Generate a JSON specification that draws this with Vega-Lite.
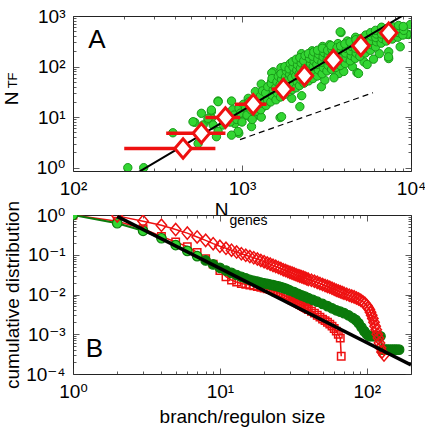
{
  "$schema": "https://vega.github.io/schema/vega-lite/v6.json",
  "background": "white",
  "padding": {"left": 1, "top": 6, "right": 4, "bottom": 4},
  "bounds": "flush",
  "spacing": 44,
  "config": {
    "view": {"stroke": "#222", "strokeWidth": 1},
    "font": "Liberation Sans, DejaVu Sans, sans-serif",
    "axis": {
      "domain": false, "grid": false,
      "labelFont": "Liberation Sans, DejaVu Sans, sans-serif", "labelFontSize": 19, "labelColor": "#000",
      "titleFont": "Liberation Sans, DejaVu Sans, sans-serif", "titleFontSize": 19, "titleFontWeight": "normal", "titleColor": "#000",
      "tickColor": "#333", "tickWidth": 0.8, "labelOverlap": false, "labelFlush": false
    }
  },
  "datasets": {
    "a_pts": [
      {"x":211,"y":1},{"x":262,"y":1},{"x":390,"y":4.9},{"x":550,"y":3.0},{"x":525,"y":7.9},{"x":575,"y":11.9},{"x":589,"y":7.0},{"x":630,"y":8.8},{"x":659,"y":12.8},{"x":722,"y":20.8},{"x":867,"y":20.8},{"x":906,"y":7.5},{"x":957,"y":4.8},{"x":1088,"y":23.5},{"x":1040,"y":12.8},{"x":1112,"y":10.2},{"x":659,"y":9.5},{"x":1016,"y":10.2},{"x":1088,"y":17.3},{"x":1248,"y":14.9},{"x":1248,"y":11},{"x":1680,"y":9.8},{"x":1336,"y":34.3},{"x":1496,"y":50},{"x":1531,"y":79},{"x":1714,"y":68},{"x":1968,"y":107},{"x":1138,"y":6.5},{"x":948,"y":5.2},{"x":773,"y":7.0},{"x":867,"y":4.4},{"x":562,"y":5.2},{"x":513,"y":8.1},{"x":659,"y":13.8},{"x":722,"y":20.2},{"x":630,"y":9.5},{"x":675,"y":7.0},{"x":722,"y":5.2},{"x":706,"y":4.1},
      {"x":3855,"y":471},{"x":9680,"y":430},{"x":8630,"y":246},{"x":7380,"y":196},{"x":7380,"y":144},{"x":4790,"y":76},{"x":3750,"y":73},{"x":5270,"y":124},{"x":2950,"y":40},{"x":3090,"y":54},{"x":2255,"y":26.5},{"x":1838,"y":31.8},{"x":6030,"y":450},{"x":8090,"y":564},{"x":9910,"y":676},{"x":7360,"y":156},{"x":4890,"y":73},{"x":3810,"y":486},{"x":9460,"y":436},{"x":2200,"y":16.1},{"x":1714,"y":10.2},{"x":1968,"y":23.5},
      {"x":800,"y":9},{"x":820,"y":12},{"x":850,"y":8},{"x":880,"y":14},{"x":900,"y":11},{"x":930,"y":9},{"x":960,"y":15},{"x":980,"y":12},{"x":1000,"y":8},{"x":1020,"y":18},{"x":1050,"y":15},{"x":1070,"y":11},{"x":1100,"y":20},{"x":1130,"y":14},{"x":1150,"y":9},{"x":1180,"y":18},{"x":1200,"y":24},{"x":1230,"y":13},{"x":1260,"y":19},{"x":1280,"y":27},{"x":1300,"y":10},{"x":1330,"y":16},{"x":1350,"y":22},{"x":1380,"y":30},
      {"x":2250,"y":180},{"x":2600,"y":205},{"x":3000,"y":250},{"x":3300,"y":270},{"x":3700,"y":285},{"x":4200,"y":320},{"x":4700,"y":380},{"x":1700,"y":95},{"x":1500,"y":75},{"x":1300,"y":45},{"x":1200,"y":32},
      {"x":3500,"y":60},{"x":4000,"y":80},{"x":4500,"y":100},{"x":5500,"y":110},{"x":6500,"y":180},{"x":6000,"y":140},
      {"x":1290,"y":14},{"x":1310,"y":19},{"x":1285,"y":26},{"x":1320,"y":33},
      {"x":1390,"y":17},{"x":1415,"y":22},{"x":1380,"y":30},{"x":1420,"y":40},
      {"x":1480,"y":20},{"x":1510,"y":27},{"x":1530,"y":35},{"x":1490,"y":46},{"x":1505,"y":58},
      {"x":1590,"y":22},{"x":1620,"y":30},{"x":1580,"y":38},{"x":1610,"y":50},{"x":1640,"y":64},
      {"x":1690,"y":25},{"x":1720,"y":35},{"x":1680,"y":44},{"x":1715,"y":56},{"x":1700,"y":72},
      {"x":1790,"y":28},{"x":1820,"y":38},{"x":1780,"y":48},{"x":1810,"y":62},{"x":1830,"y":82},{"x":1795,"y":100},
      {"x":1890,"y":32},{"x":1920,"y":42},{"x":1880,"y":55},{"x":1915,"y":70},{"x":1900,"y":90},{"x":1930,"y":115},
      {"x":1985,"y":35},{"x":2020,"y":46},{"x":1970,"y":60},{"x":2040,"y":78},{"x":2005,"y":98},{"x":1990,"y":125},
      {"x":2090,"y":38},{"x":2120,"y":50},{"x":2080,"y":66},{"x":2110,"y":85},{"x":2130,"y":108},{"x":2095,"y":140},
      {"x":2190,"y":42},{"x":2230,"y":55},{"x":2180,"y":72},{"x":2215,"y":92},{"x":2240,"y":118},{"x":2200,"y":150},
      {"x":2330,"y":47},{"x":2370,"y":62},{"x":2340,"y":82},{"x":2380,"y":104},{"x":2320,"y":130},{"x":2360,"y":165},
      {"x":2480,"y":52},{"x":2520,"y":70},{"x":2490,"y":92},{"x":2540,"y":115},{"x":2510,"y":145},{"x":2470,"y":180},
      {"x":2630,"y":58},{"x":2680,"y":78},{"x":2640,"y":100},{"x":2670,"y":128},{"x":2620,"y":160},{"x":2660,"y":195},
      {"x":2790,"y":65},{"x":2830,"y":86},{"x":2770,"y":110},{"x":2810,"y":140},{"x":2840,"y":175},{"x":2800,"y":210},
      {"x":2980,"y":72},{"x":3030,"y":95},{"x":2970,"y":122},{"x":3020,"y":155},{"x":3050,"y":190},{"x":2990,"y":230},
      {"x":3180,"y":82},{"x":3230,"y":106},{"x":3190,"y":135},{"x":3240,"y":170},{"x":3210,"y":210},
      {"x":3390,"y":88},{"x":3420,"y":112},{"x":3370,"y":142},{"x":3440,"y":178},{"x":3400,"y":220},{"x":3360,"y":260},
      {"x":3580,"y":96},{"x":3630,"y":122},{"x":3610,"y":155},{"x":3570,"y":192},{"x":3650,"y":235},
      {"x":3820,"y":105},{"x":3880,"y":135},{"x":3840,"y":168},{"x":3870,"y":208},{"x":3830,"y":255},
      {"x":4080,"y":115},{"x":4130,"y":148},{"x":4090,"y":185},{"x":4150,"y":228},{"x":4060,"y":280},
      {"x":4370,"y":130},{"x":4430,"y":165},{"x":4390,"y":205},{"x":4450,"y":250},{"x":4360,"y":305},
      {"x":4680,"y":145},{"x":4740,"y":185},{"x":4690,"y":230},{"x":4760,"y":280},{"x":4720,"y":340},
      {"x":4980,"y":160},{"x":5050,"y":200},{"x":4960,"y":250},{"x":5030,"y":300},{"x":5080,"y":360},
      {"x":5370,"y":185},{"x":5440,"y":235},{"x":5380,"y":290},{"x":5450,"y":350},{"x":5400,"y":420},
      {"x":5760,"y":210},{"x":5850,"y":270},{"x":5790,"y":330},{"x":5840,"y":400},{"x":5770,"y":470},
      {"x":6170,"y":245},{"x":6250,"y":310},{"x":6190,"y":375},{"x":6240,"y":440},{"x":6160,"y":520},
      {"x":6660,"y":290},{"x":6750,"y":360},{"x":6690,"y":440},{"x":6740,"y":520},{"x":6700,"y":600},
      {"x":7150,"y":320},{"x":7260,"y":400},{"x":7190,"y":480},{"x":7240,"y":570},
      {"x":7750,"y":350},{"x":7860,"y":430},{"x":7790,"y":520},{"x":7840,"y":610},
      {"x":8350,"y":380},{"x":8450,"y":470},{"x":8390,"y":560},{"x":8440,"y":650},
      {"x":8950,"y":420},{"x":9060,"y":520},{"x":9000,"y":620}
    ],
    "a_bins": [
      {"x":448,"y":2.4,"xlo":201,"xhi":696},
      {"x":575,"y":4.8,"xlo":356,"xhi":798},
      {"x":798,"y":9.8,"xlo":607,"xhi":975},
      {"x":1165,"y":17.9,"xlo":906,"xhi":1397},
      {"x":1757,"y":35.8,"xlo":1500,"xhi":2050},
      {"x":2340,"y":66,"xlo":2150,"xhi":2550},
      {"x":3475,"y":134,"xlo":3250,"xhi":3700},
      {"x":5050,"y":257,"xlo":4750,"xhi":5350},
      {"x":7380,"y":464,"xlo":6950,"xhi":7800}
    ],
    "a_fit": [{"x":240,"y":0.79},{"x":9500,"y":1151}],
    "a_dash": [{"x":973,"y":3.6},{"x":5960,"y":30.4}],
    "b_green": [
      {"x":1,"y":1},{"x":2,"y":0.62},{"x":3,"y":0.4},{"x":4,"y":0.26},{"x":5,"y":0.175},{"x":6,"y":0.125},{"x":7,"y":0.092},{"x":8,"y":0.072},{"x":9,"y":0.057},{"x":10,"y":0.047},{"x":11,"y":0.04},{"x":12,"y":0.035},{"x":13,"y":0.031},{"x":14,"y":0.028},{"x":15,"y":0.0255},{"x":16,"y":0.0235},{"x":17,"y":0.0222},{"x":18,"y":0.021},{"x":19,"y":0.02},{"x":20,"y":0.0192},{"x":21,"y":0.0185},{"x":22,"y":0.0178},{"x":23,"y":0.0172},{"x":24,"y":0.0166},{"x":25,"y":0.016},{"x":26,"y":0.0153},{"x":27,"y":0.0146},{"x":28,"y":0.014},{"x":29,"y":0.0133},{"x":30,"y":0.0126},{"x":32,"y":0.0115},{"x":34,"y":0.0104},{"x":36,"y":0.0095},{"x":38,"y":0.0088},{"x":40,"y":0.0081},{"x":43,"y":0.0073},{"x":46,"y":0.0066},{"x":50,"y":0.0058},{"x":54,"y":0.0051},{"x":58,"y":0.0045},{"x":62,"y":0.004},{"x":66,"y":0.0037},{"x":70,"y":0.0034},{"x":75,"y":0.003},{"x":80,"y":0.0026},{"x":84,"y":0.0023},{"x":88,"y":0.0019},{"x":92,"y":0.0015},{"x":96,"y":0.0012},{"x":100,"y":0.001},{"x":104,"y":0.00089},{"x":108,"y":0.00089},{"x":112,"y":0.00089},{"x":116,"y":0.00089},{"x":120,"y":0.00089},{"x":124,"y":0.00089},{"x":128,"y":0.00041},{"x":132,"y":0.00041},{"x":136,"y":0.00041},{"x":140,"y":0.00041},{"x":145,"y":0.00041},{"x":150,"y":0.00041},{"x":155,"y":0.00041},{"x":160,"y":0.00041},{"x":166,"y":0.00041}
    ],
    "b_sq": [
      {"x":1,"y":1},{"x":2,"y":0.7},{"x":3,"y":0.45},{"x":4,"y":0.29},{"x":5,"y":0.21},{"x":6,"y":0.16},{"x":7,"y":0.115},{"x":8,"y":0.08},{"x":9,"y":0.058},{"x":10,"y":0.04},{"x":11,"y":0.028},{"x":12,"y":0.023},{"x":13,"y":0.0205},{"x":14,"y":0.019},{"x":15,"y":0.018},{"x":16,"y":0.0172},{"x":17,"y":0.0165},{"x":18,"y":0.0158},{"x":19,"y":0.0152},{"x":20,"y":0.0146},{"x":21,"y":0.014},{"x":22,"y":0.0133},{"x":23,"y":0.0125},{"x":24,"y":0.0117},{"x":25,"y":0.011},{"x":26,"y":0.0103},{"x":27,"y":0.0097},{"x":28,"y":0.0091},{"x":29,"y":0.0085},{"x":30,"y":0.0078},{"x":31,"y":0.0072},{"x":32,"y":0.0068},{"x":33,"y":0.0064},{"x":34,"y":0.006},{"x":35,"y":0.0056},{"x":36,"y":0.0053},{"x":37,"y":0.005},{"x":38,"y":0.0047},{"x":39,"y":0.0045},{"x":40,"y":0.0042},{"x":42,"y":0.0038},{"x":44,"y":0.0034},{"x":46,"y":0.003},{"x":48,"y":0.0027},{"x":50,"y":0.0024},{"x":52,"y":0.0022},{"x":54,"y":0.002},{"x":56,"y":0.0018},{"x":58,"y":0.0016},{"x":60,"y":0.0014},{"x":62,"y":0.0012},{"x":64,"y":0.001},{"x":66,"y":0.0008},{"x":67,"y":0.00028}
    ],
    "b_dia": [
      {"x":2,"y":0.95},{"x":3,"y":0.7},{"x":4,"y":0.55},{"x":5,"y":0.43},{"x":6,"y":0.35},{"x":7,"y":0.28},{"x":8,"y":0.23},{"x":9,"y":0.19},{"x":10,"y":0.163},{"x":11,"y":0.145},{"x":12,"y":0.13},{"x":13,"y":0.117},{"x":14,"y":0.106},{"x":15,"y":0.097},{"x":16,"y":0.09},{"x":17,"y":0.084},{"x":18,"y":0.078},{"x":19,"y":0.072},{"x":20,"y":0.067},{"x":21,"y":0.062},{"x":22,"y":0.058},{"x":23,"y":0.054},{"x":24,"y":0.051},{"x":25,"y":0.048},{"x":26,"y":0.045},{"x":27,"y":0.042},{"x":28,"y":0.04},{"x":29,"y":0.038},{"x":30,"y":0.036},{"x":31,"y":0.0345},{"x":32,"y":0.033},{"x":33,"y":0.0315},{"x":34,"y":0.03},{"x":35,"y":0.029},{"x":36,"y":0.028},{"x":37,"y":0.027},{"x":38,"y":0.026},{"x":39,"y":0.025},{"x":40,"y":0.024},{"x":42,"y":0.0228},{"x":44,"y":0.0215},{"x":46,"y":0.0202},{"x":48,"y":0.019},{"x":50,"y":0.0178},{"x":52,"y":0.0168},{"x":54,"y":0.016},{"x":56,"y":0.0152},{"x":58,"y":0.0143},{"x":60,"y":0.0135},{"x":62,"y":0.0128},{"x":64,"y":0.0122},{"x":66,"y":0.0117},{"x":68,"y":0.0112},{"x":70,"y":0.0108},{"x":73,"y":0.0102},{"x":76,"y":0.0096},{"x":79,"y":0.0091},{"x":82,"y":0.0087},{"x":85,"y":0.0082},{"x":88,"y":0.0077},{"x":91,"y":0.0072},{"x":94,"y":0.0066},{"x":97,"y":0.006},{"x":100,"y":0.0053},{"x":102,"y":0.0047},{"x":104,"y":0.0042},{"x":106,"y":0.0036},{"x":108,"y":0.003},{"x":110,"y":0.0025},{"x":112,"y":0.002},{"x":114,"y":0.0016},{"x":116,"y":0.0013},{"x":118,"y":0.001},{"x":120,"y":0.0008},{"x":122,"y":0.0006},{"x":124,"y":0.00046},{"x":127,"y":0.00036},{"x":131,"y":0.0003}
    ],
    "b_fit": [{"x":2,"y":0.92},{"x":200,"y":0.00017}],
    "a_text": [
      {"label":"A","x":138.7,"y":340}
    ],
    "a_sub_x": [
      {"label":"genes","x":1092,"y":0.0745}
    ],
    "a_sub_y": [
      {"label":"TF","x":44.3,"y":53.2}
    ],
    "b_text": [
      {"label":"B","x":1.4,"y":0.000425}
    ]
  },
  "vconcat": [
    {
      "width": 338, "height": 155,
      "resolve": {"axis": {"x": "independent", "y": "independent"}},
      "layer": [
        {
          "data": {"name": "a_pts"},
          "mark": {"type": "point", "shape": "circle", "filled": true, "size": 70, "fill": "#33d633", "stroke": "#189818", "strokeWidth": 1, "opacity": 1, "clip": true},
          "encoding": {
            "x": {"field": "x", "type": "quantitative", "scale": {"type": "log", "domain": [100, 10000], "nice": false},
              "axis": {"orient": "bottom", "values": [100,200,300,400,500,600,700,800,900,1000,2000,3000,4000,5000,6000,7000,8000,9000,10000],
                "labelExpr": "datum.value == 100 ? '10²' : datum.value == 1000 ? '10³' : datum.value == 10000 ? '10⁴' : ''",
                "tickSize": {"condition": {"test": "abs(log(datum.value)/LN10 - round(log(datum.value)/LN10)) < 0.001", "value": -6}, "value": -3},
                "labelPadding": 14, "title": "N", "titleX": 148, "titleY": 44, "titleAlign": "center", "titleBaseline": "alphabetic"}},
            "y": {"field": "y", "type": "quantitative", "scale": {"type": "log", "domain": [0.86, 1000], "nice": false},
              "axis": {"orient": "left", "values": [1,2,3,4,5,6,7,8,9,10,20,30,40,50,60,70,80,90,100,200,300,400,500,600,700,800,900,1000],
                "labelExpr": "datum.value == 1 ? '10⁰' : datum.value == 10 ? '10¹' : datum.value == 100 ? '10²' : datum.value == 1000 ? '10³' : ''",
                "tickSize": {"condition": {"test": "abs(log(datum.value)/LN10 - round(log(datum.value)/LN10)) < 0.001", "value": -6}, "value": -3},
                "labelPadding": 14, "title": "N", "titleX": -62, "titleY": 82, "titleAngle": 270, "titleAlign": "center", "titleBaseline": "middle"}}
          }
        },
        {
          "data": {"name": "a_fit"},
          "mark": {"type": "line", "color": "#000", "strokeWidth": 2, "clip": true},
          "encoding": {
            "x": {"field": "x", "type": "quantitative",
              "axis": {"orient": "top", "values": [100,200,300,400,500,600,700,800,900,1000,2000,3000,4000,5000,6000,7000,8000,9000,10000], "labels": false, "title": null,
                "tickSize": {"condition": {"test": "abs(log(datum.value)/LN10 - round(log(datum.value)/LN10)) < 0.001", "value": -6}, "value": -3}}},
            "y": {"field": "y", "type": "quantitative",
              "axis": {"orient": "right", "values": [1,2,3,4,5,6,7,8,9,10,20,30,40,50,60,70,80,90,100,200,300,400,500,600,700,800,900,1000], "labels": false, "title": null,
                "tickSize": {"condition": {"test": "abs(log(datum.value)/LN10 - round(log(datum.value)/LN10)) < 0.001", "value": -6}, "value": -3}}}
          }
        },
        {
          "data": {"name": "a_dash"},
          "mark": {"type": "line", "color": "#000", "strokeWidth": 1.2, "strokeDash": [6, 4]},
          "encoding": {
            "x": {"field": "x", "type": "quantitative", "axis": null},
            "y": {"field": "y", "type": "quantitative", "axis": null}
          }
        },
        {
          "data": {"name": "a_bins"},
          "mark": {"type": "rule", "color": "#ee1111", "strokeWidth": 3.5},
          "encoding": {
            "x": {"field": "xlo", "type": "quantitative", "axis": null},
            "x2": {"field": "xhi"},
            "y": {"field": "y", "type": "quantitative", "axis": null}
          }
        },
        {
          "data": {"name": "a_bins"},
          "mark": {"type": "point", "shape": "M-0.85,0L0,-1L0.85,0L0,1Z", "filled": true, "fill": "white", "stroke": "#ee1111", "strokeWidth": 3, "size": 380, "opacity": 1},
          "encoding": {
            "x": {"field": "x", "type": "quantitative", "axis": null},
            "y": {"field": "y", "type": "quantitative", "axis": null}
          }
        },
        {
          "data": {"name": "a_text"},
          "mark": {"type": "text", "fontSize": 26, "align": "center", "baseline": "middle", "font": "Liberation Sans", "color": "#000"},
          "encoding": {
            "x": {"field": "x", "type": "quantitative", "axis": null},
            "y": {"field": "y", "type": "quantitative", "axis": null},
            "text": {"field": "label"}
          }
        },
        {
          "data": {"name": "a_sub_x"},
          "mark": {"type": "text", "fontSize": 14, "align": "center", "baseline": "alphabetic", "font": "Liberation Sans", "color": "#000"},
          "encoding": {
            "x": {"field": "x", "type": "quantitative", "axis": null},
            "y": {"field": "y", "type": "quantitative", "axis": null},
            "text": {"field": "label"}
          }
        },
        {
          "data": {"name": "a_sub_y"},
          "mark": {"type": "text", "fontSize": 13, "align": "center", "baseline": "middle", "angle": 270, "font": "Liberation Sans", "color": "#000"},
          "encoding": {
            "x": {"field": "x", "type": "quantitative", "axis": null},
            "y": {"field": "y", "type": "quantitative", "axis": null},
            "text": {"field": "label"}
          }
        }
      ]
    },
    {
      "width": 338, "height": 159,
      "resolve": {"axis": {"x": "independent", "y": "independent"}},
      "layer": [
        {
          "data": {"name": "b_sq"},
          "mark": {"type": "line", "color": "#ee1111", "strokeWidth": 1.5, "clip": true},
          "encoding": {
            "x": {"field": "x", "type": "quantitative", "scale": {"type": "log", "domain": [1, 200], "nice": false},
              "axis": {"orient": "bottom", "values": [1,2,3,4,5,6,7,8,9,10,20,30,40,50,60,70,80,90,100,200],
                "labelExpr": "datum.value == 1 ? '10⁰' : datum.value == 10 ? '10¹' : datum.value == 100 ? '10²' : ''",
                "tickSize": {"condition": {"test": "abs(log(datum.value)/LN10 - round(log(datum.value)/LN10)) < 0.001", "value": -6}, "value": -3},
                "labelPadding": 14, "title": "branch/regulon size", "titleX": 169, "titleY": 48, "titleAlign": "center", "titleBaseline": "alphabetic"}},
            "y": {"field": "y", "type": "quantitative", "scale": {"type": "log", "domain": [0.0001, 1], "nice": false},
              "axis": {"orient": "left", "values": [0.0001,0.0002,0.0003,0.0004,0.0005,0.0006,0.0007,0.0008,0.0009,0.001,0.002,0.003,0.004,0.005,0.006,0.007,0.008,0.009,0.01,0.02,0.03,0.04,0.05,0.06,0.07,0.08,0.09,0.1,0.2,0.3,0.4,0.5,0.6,0.7,0.8,0.9,1],
                "labelExpr": "datum.value == 1 ? '10⁰' : datum.value == 0.1 ? '10⁻¹' : datum.value == 0.01 ? '10⁻²' : datum.value == 0.001 ? '10⁻³' : datum.value == 0.0001 ? '10⁻⁴' : ''",
                "tickSize": {"condition": {"test": "abs(log(datum.value)/LN10 - round(log(datum.value)/LN10)) < 0.001", "value": -6}, "value": -3},
                "labelPadding": 14, "title": "cumulative distribution", "titleX": -61, "titleY": 79.5, "titleAngle": 270, "titleAlign": "center", "titleBaseline": "middle"}}
          }
        },
        {
          "data": {"name": "b_sq"},
          "mark": {"type": "point", "shape": "square", "filled": false, "stroke": "#ee1111", "strokeWidth": 1.5, "size": 55, "opacity": 1, "clip": true},
          "encoding": {
            "x": {"field": "x", "type": "quantitative", "axis": null},
            "y": {"field": "y", "type": "quantitative", "axis": null}
          }
        },
        {
          "data": {"name": "b_green"},
          "mark": {"type": "line", "color": "#0b7a0b", "strokeWidth": 2, "clip": true},
          "encoding": {
            "x": {"field": "x", "type": "quantitative", "axis": null},
            "y": {"field": "y", "type": "quantitative", "axis": null}
          }
        },
        {
          "data": {"name": "b_green"},
          "mark": {"type": "point", "shape": "circle", "filled": true, "size": 90, "stroke": "#0b7a0b", "strokeWidth": 1.2, "opacity": 1, "clip": true},
          "encoding": {
            "x": {"field": "x", "type": "quantitative", "axis": null},
            "y": {"field": "y", "type": "quantitative", "axis": null},
            "fill": {"condition": {"test": "datum.x <= 7", "value": "#33d633"}, "value": "#0b7a0b"}
          }
        },
        {
          "data": {"name": "b_dia"},
          "mark": {"type": "line", "color": "#ee1111", "strokeWidth": 1.5, "clip": true},
          "encoding": {
            "x": {"field": "x", "type": "quantitative", "axis": null},
            "y": {"field": "y", "type": "quantitative", "axis": null}
          }
        },
        {
          "data": {"name": "b_dia"},
          "mark": {"type": "point", "shape": "M-0.85,0L0,-1L0.85,0L0,1Z", "filled": false, "stroke": "#ee1111", "strokeWidth": 1.5, "size": 150, "opacity": 1, "clip": true},
          "encoding": {
            "x": {"field": "x", "type": "quantitative", "axis": null},
            "y": {"field": "y", "type": "quantitative", "axis": null}
          }
        },
        {
          "data": {"name": "b_fit"},
          "mark": {"type": "line", "color": "#000", "strokeWidth": 3.5, "clip": true},
          "encoding": {
            "x": {"field": "x", "type": "quantitative",
              "axis": {"orient": "top", "values": [1,2,3,4,5,6,7,8,9,10,20,30,40,50,60,70,80,90,100,200], "labels": false, "title": null,
                "tickSize": {"condition": {"test": "abs(log(datum.value)/LN10 - round(log(datum.value)/LN10)) < 0.001", "value": -6}, "value": -3}}},
            "y": {"field": "y", "type": "quantitative",
              "axis": {"orient": "right", "values": [0.0001,0.0002,0.0003,0.0004,0.0005,0.0006,0.0007,0.0008,0.0009,0.001,0.002,0.003,0.004,0.005,0.006,0.007,0.008,0.009,0.01,0.02,0.03,0.04,0.05,0.06,0.07,0.08,0.09,0.1,0.2,0.3,0.4,0.5,0.6,0.7,0.8,0.9,1], "labels": false, "title": null,
                "tickSize": {"condition": {"test": "abs(log(datum.value)/LN10 - round(log(datum.value)/LN10)) < 0.001", "value": -6}, "value": -3}}}
          }
        },
        {
          "data": {"name": "b_text"},
          "mark": {"type": "text", "fontSize": 26, "align": "center", "baseline": "middle", "font": "Liberation Sans", "color": "#000"},
          "encoding": {
            "x": {"field": "x", "type": "quantitative", "axis": null},
            "y": {"field": "y", "type": "quantitative", "axis": null},
            "text": {"field": "label"}
          }
        }
      ]
    }
  ]
}
